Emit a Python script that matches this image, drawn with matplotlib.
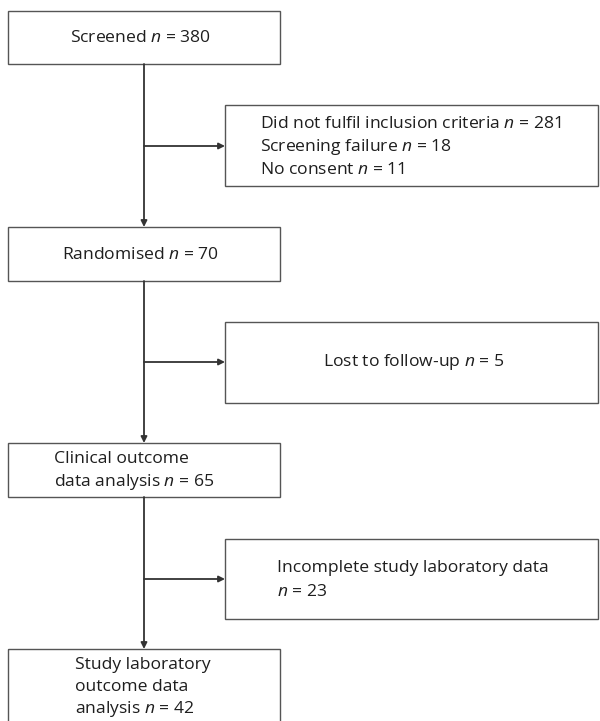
import matplotlib.pyplot as plt
from matplotlib.patches import Rectangle

plt.rcParams['font.family'] = ['Open Sans', 'DejaVu Sans']
plt.rcParams['mathtext.fontset'] = 'custom'
plt.rcParams['mathtext.rm'] = 'Open Sans'
plt.rcParams['mathtext.it'] = 'Open Sans:italic'

# main flow boxes (label lines, last line gets the n)
main_labels = [
    ['Screened'],
    ['Randomised'],
    ['Clinical outcome', 'data analysis'],
    ['Study laboratory', 'outcome data', 'analysis'],
]
main_counts = [380, 70, 65, 42]

# side boxes (excluded at each step)
side_labels = [
    ['Did not fulfil inclusion criteria', 'Screening failure', 'No consent'],
    ['Lost to follow-up'],
    ['Incomplete study laboratory data', ''],
]
side_counts = [[281, 18, 11], [5], [23]]

# layout in pixel coords (y down)
main_boxes = [(8, 11, 272, 53), (8, 227, 272, 54), (8, 443, 272, 54), (8, 649, 272, 90)]
main_text = [('center', 140, [38]), ('center', 140, [255]),
             ('left', 54, [459, 482]), ('left', 75, [665, 687, 709])]
side_boxes = [(225, 105, 373, 81), (225, 322, 373, 81), (225, 539, 373, 80)]
side_text = [('left', 260, [124, 147, 170]), ('center', 414, [362]),
             ('left', 277, [568, 592])]
arrow_y = [146, 362, 579]
spine_x = 144

fig = plt.figure(figsize=(6, 7.21), dpi=100)
ax = fig.add_axes([0, 0, 1, 1])
ax.set_xlim(0, 600)
ax.set_ylim(721, 0)
ax.axis('off')

edge = '#555555'
line = '#333333'
fs = 12.6


def nline(label, n):
    if label:
        return label + r' $n$ = ' + str(n)
    return r'$n$ = ' + str(n)


for (x, y, w, h), (ha, tx, ys), lab, n in zip(main_boxes, main_text, main_labels, main_counts):
    ax.add_patch(Rectangle((x, y), w, h, fill=False, ec=edge, lw=1.0, clip_on=False))
    lines = lab[:-1] + [nline(lab[-1], n)]
    for t, ty in zip(lines, ys):
        ax.text(tx, ty, t, ha=ha, va='center', fontsize=fs, color='#1e1e1e')

for (x, y, w, h), (ha, tx, ys), lab, ns in zip(side_boxes, side_text, side_labels, side_counts):
    ax.add_patch(Rectangle((x, y), w, h, fill=False, ec=edge, lw=1.0, clip_on=False))
    if len(lab) == len(ns):
        lines = [nline(l, n) for l, n in zip(lab, ns)]
    else:
        lines = lab[:-1] + [nline(lab[-1], ns[0])]
    for t, ty in zip(lines, ys):
        ax.text(tx, ty, t, ha=ha, va='center', fontsize=fs, color='#1e1e1e')

# vertical arrows between main boxes
for (x0, y0, w0, h0), (x1, y1, w1, h1) in zip(main_boxes[:-1], main_boxes[1:]):
    ax.annotate('', xy=(spine_x, y1), xytext=(spine_x, y0 + h0),
                arrowprops=dict(arrowstyle='-|>', color=line, lw=1.3,
                                mutation_scale=9, shrinkA=0, shrinkB=0))

# horizontal arrows to side boxes
for yy, (sx, sy, sw, sh) in zip(arrow_y, side_boxes):
    ax.annotate('', xy=(sx, yy), xytext=(spine_x, yy),
                arrowprops=dict(arrowstyle='-|>', color=line, lw=1.3,
                                mutation_scale=9, shrinkA=0, shrinkB=0))

fig.savefig('out.png', dpi=100, facecolor='white')
